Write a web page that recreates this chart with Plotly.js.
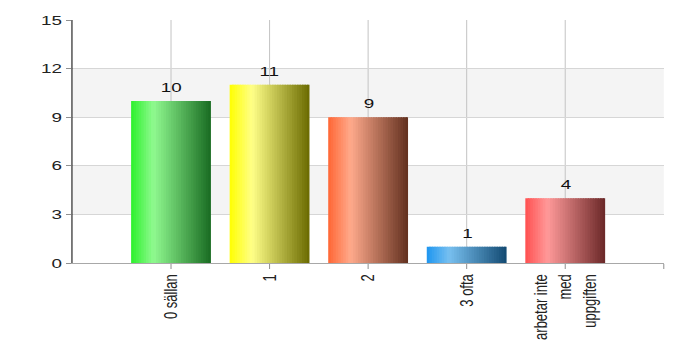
<!DOCTYPE html>
<html>
<head>
<meta charset="utf-8">
<script src="https://cdn.plot.ly/plotly-3.0.1.min.js"></script>
<style>
  html, body { margin: 0; padding: 0; background: #fff; overflow: hidden; }
  #wrap { width: 700px; height: 362px; overflow: hidden; }
  /* the chart is laid out narrow and widened horizontally, giving the wide lettering */
  #chart { width: 483px; height: 362px; transform: scaleX(1.4493); transform-origin: 0 0; }
</style>
</head>
<body>
<div id="wrap"><div id="chart"></div></div>
<script>
// answers per category
const categories = ['0 sällan', '1', '2', '3 ofta', 'arbetar inte<br>med<br>uppgiften'];
const counts = [10, 11, 9, 1, 4];

// gradient stops for each bar: left edge, highlight, right edge
const edgeColors      = ['#2cf02c', '#ffff00', '#ff6634', '#1e96f0', '#ff5050'];
const highlightColors = ['#90fa90', '#ffff88', '#ffaa8c', '#78c0f0', '#ff9a9a'];
const shadeColors     = ['#196b22', '#6a6a00', '#62301f', '#134a72', '#6a2828'];

const yTicks = [0, 3, 6, 9, 12, 15];

function hexToRgb(h) {
  const n = parseInt(h.slice(1), 16);
  return [(n >> 16) & 255, (n >> 8) & 255, n & 255];
}
function mix(a, b, f) {
  const A = hexToRgb(a), B = hexToRgb(b);
  return 'rgb(' + A.map((v, i) => Math.round(v + (B[i] - v) * f)).join(',') + ')';
}
function gradientAt(i, t) {
  const hl = 0.28;
  if (t < hl) return mix(edgeColors[i], highlightColors[i], t / hl);
  return mix(highlightColors[i], shadeColors[i], (t - hl) / (1 - hl));
}

const xs = categories.map((_, i) => i + 1);
const barW = 0.81;
const slices = 32;
const sliceW = barW / slices;

// each bar is painted as a row of thin vertical strips to build the shaded gradient
const traces = [];
for (let s = 0; s < slices; s++) {
  const t = (s + 0.5) / slices;
  traces.push({
    type: 'bar',
    x: xs,
    y: counts,
    offset: -barW / 2 + s * sliceW,
    width: s < slices - 1 ? sliceW * 1.6 : sliceW,
    marker: { color: xs.map((_, i) => gradientAt(i, t)), line: { width: 0 } },
    hoverinfo: 'skip',
    showlegend: false
  });
}

const bands = [[3, 6], [9, 12]].map(b => ({
  type: 'rect', xref: 'paper', yref: 'y', x0: 0, x1: 1, y0: b[0], y1: b[1],
  fillcolor: '#f4f4f4', line: { width: 0 }, layer: 'below'
}));

const valueLabels = counts.map((v, i) => ({
  x: xs[i], y: v, text: String(v), showarrow: false,
  xanchor: 'center', yanchor: 'bottom', yshift: 4,
  font: { size: 13, color: '#111' }
}));

const layout = {
  width: 483, height: 362,
  margin: { l: 50, r: 25, t: 20, b: 99 },
  paper_bgcolor: '#ffffff', plot_bgcolor: '#ffffff',
  font: { family: 'Liberation Sans, Arial, sans-serif', size: 13, color: '#222' },
  barmode: 'overlay',
  showlegend: false,
  xaxis: {
    range: [0, 6],
    tickmode: 'array',
    tickvals: xs.concat([6]),
    ticktext: categories.concat(['']),
    tickangle: -90,
    showgrid: true, gridcolor: '#c4c4c4', gridwidth: 0.7,
    showline: true, linecolor: '#a8a8a8', linewidth: 1,
    ticks: 'outside', ticklen: 5, tickcolor: '#909090', tickwidth: 0.7,
    zeroline: false, automargin: false, fixedrange: true,
    tickfont: { size: 13, color: '#222' }
  },
  yaxis: {
    range: [0, 15],
    tickmode: 'array', tickvals: yTicks,
    showgrid: true, gridcolor: '#d6d6d6', gridwidth: 1,
    showline: true, linecolor: '#000', linewidth: 0.7,
    ticks: 'outside', ticklen: 4, tickcolor: '#909090', tickwidth: 1,
    zeroline: false, automargin: false, fixedrange: true,
    tickfont: { size: 13, color: '#222' }
  },
  shapes: bands,
  annotations: valueLabels
};

Plotly.newPlot('chart', traces, layout, { staticPlot: true, displayModeBar: false });
</script>
</body>
</html>
